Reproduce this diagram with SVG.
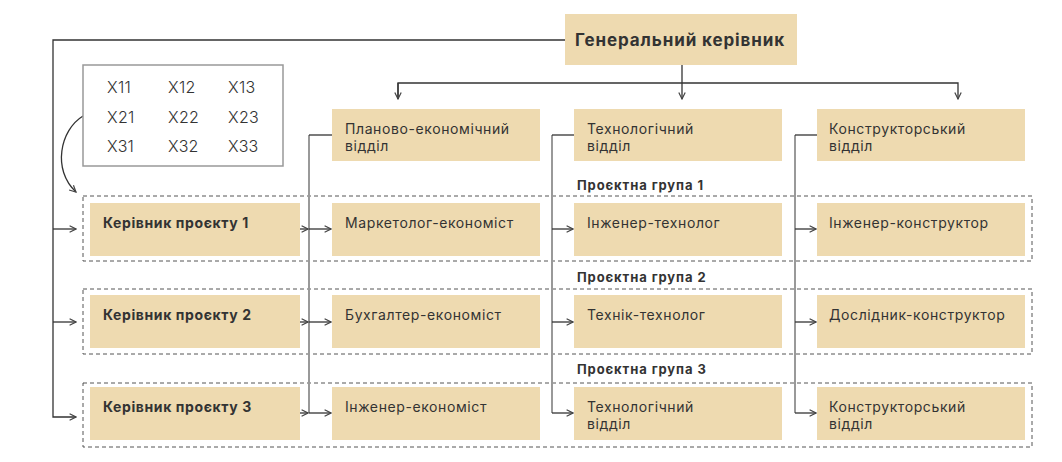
<svg xmlns="http://www.w3.org/2000/svg" width="1062" height="462" viewBox="0 0 1062 462">
<style>
.box{fill:#EEDAB0}
.t{font-family:Inter,"Noto Sans",sans-serif;font-size:14px;fill:#333;letter-spacing:0.6px}
.b{font-weight:bold}
.gl{font-family:Inter,"Noto Sans",sans-serif;font-size:13px;font-weight:bold;fill:#333;letter-spacing:0.9px}
.x{font-family:Inter,"Noto Sans",sans-serif;font-size:16px;font-weight:300;fill:#333;letter-spacing:0.3px}
.dash{fill:none;stroke:#555;stroke-width:1;stroke-dasharray:4 3}
.c{fill:none;stroke:#333;stroke-width:1.3}
.v{fill:none;stroke:#999;stroke-width:2}
</style>
<defs>
<marker id="ah" viewBox="0 0 10 10" refX="9" refY="5" markerWidth="8" markerHeight="8" markerUnits="userSpaceOnUse" orient="auto">
<path d="M1,1 L9,5 L1,9" fill="none" stroke="#444" stroke-width="1.5"/>
</marker>
</defs>
<rect width="1062" height="462" fill="#fff"/>
<g id="groups">
<rect class="dash" x="83" y="196" width="949" height="65"/>
<rect class="dash" x="83" y="289" width="949" height="65"/>
<rect class="dash" x="83" y="383" width="949" height="64"/>
<text class="gl" x="577" y="190">Проєктна група 1</text>
<text class="gl" x="577" y="282">Проєктна група 2</text>
<text class="gl" x="577" y="374">Проєктна група 3</text>
</g>
<g id="connectors">
<path class="c" d="M565,40 H53 V417 H76" marker-end="url(#ah)"/>
<path class="c" d="M53,229 H76" marker-end="url(#ah)"/>
<path class="c" d="M53,322 H76" marker-end="url(#ah)"/>
<path class="c" d="M682,65 V99" marker-end="url(#ah)"/>
<path class="c" d="M398,99 V83 H958 V99" marker-end="url(#ah)"/>
<path class="c" d="M398,83 V99" marker-end="url(#ah)"/>
<path class="c" d="M83,116 C60,130 52,170 76,192" marker-end="url(#ah)"/>
<path class="v" d="M309,135 V413"/>
<path class="v" d="M552,135 V413"/>
<path class="v" d="M795,135 V413"/>
<path class="c" d="M332,135 H309"/>
<path class="c" d="M574,135 H552"/>
<path class="c" d="M817,135 H795"/>
<path class="c" d="M300,229 H308" marker-end="url(#ah)"/>
<path class="c" d="M300,322 H308" marker-end="url(#ah)"/>
<path class="c" d="M300,413 H308" marker-end="url(#ah)"/>
<path class="c" d="M309,229 H331" marker-end="url(#ah)"/>
<path class="c" d="M309,322 H331" marker-end="url(#ah)"/>
<path class="c" d="M309,413 H331" marker-end="url(#ah)"/>
<path class="c" d="M552,229 H573" marker-end="url(#ah)"/>
<path class="c" d="M552,322 H573" marker-end="url(#ah)"/>
<path class="c" d="M552,413 H573" marker-end="url(#ah)"/>
<path class="c" d="M795,229 H816" marker-end="url(#ah)"/>
<path class="c" d="M795,322 H816" marker-end="url(#ah)"/>
<path class="c" d="M795,413 H816" marker-end="url(#ah)"/>
</g>
<g id="general">
<rect class="box" x="565" y="14" width="232" height="51"/>
<text class="t b" x="575" y="46" style="font-size:17px;letter-spacing:0.9px">Генеральний керівник</text>
</g>
<g id="matrix">
<rect x="83" y="65" width="200" height="101" fill="#fff" stroke="#999" stroke-width="1.5"/>
<text class="x" x="107" y="93">X11</text><text class="x" x="168" y="93">X12</text><text class="x" x="228" y="93">X13</text>
<text class="x" x="107" y="123">X21</text><text class="x" x="168" y="123">X22</text><text class="x" x="228" y="123">X23</text>
<text class="x" x="107" y="152">X31</text><text class="x" x="168" y="152">X32</text><text class="x" x="228" y="152">X33</text>
</g>
<g id="dept1"><rect class="box" x="332" y="109" width="208" height="52"/><text class="t" x="345" y="134">Планово-економічний</text><text class="t" x="345" y="151">відділ</text></g>
<g id="dept2"><rect class="box" x="574" y="109" width="208" height="52"/><text class="t" x="587" y="134">Технологічний</text><text class="t" x="587" y="151">відділ</text></g>
<g id="dept3"><rect class="box" x="817" y="109" width="208" height="52"/><text class="t" x="829" y="134">Конструкторський</text><text class="t" x="829" y="151">відділ</text></g>
<g id="pm1"><rect class="box" x="90" y="203" width="210" height="53"/><text class="t b" x="103" y="228">Керівник проєкту 1</text></g>
<g id="pm2"><rect class="box" x="90" y="295" width="210" height="53"/><text class="t b" x="103" y="320">Керівник проєкту 2</text></g>
<g id="pm3"><rect class="box" x="90" y="387" width="210" height="53"/><text class="t b" x="103" y="412">Керівник проєкту 3</text></g>
<g id="r1b"><rect class="box" x="332" y="203" width="208" height="53"/><text class="t" x="345" y="228">Маркетолог-економіст</text></g>
<g id="r1c"><rect class="box" x="574" y="203" width="208" height="53"/><text class="t" x="587" y="228">Інженер-технолог</text></g>
<g id="r1d"><rect class="box" x="817" y="203" width="208" height="53"/><text class="t" x="829" y="228">Інженер-конструктор</text></g>
<g id="r2b"><rect class="box" x="332" y="295" width="208" height="53"/><text class="t" x="345" y="320">Бухгалтер-економіст</text></g>
<g id="r2c"><rect class="box" x="574" y="295" width="208" height="53"/><text class="t" x="587" y="320">Технік-технолог</text></g>
<g id="r2d"><rect class="box" x="817" y="295" width="208" height="53"/><text class="t" x="829" y="320">Дослідник-конструктор</text></g>
<g id="r3b"><rect class="box" x="332" y="387" width="208" height="53"/><text class="t" x="345" y="412">Інженер-економіст</text></g>
<g id="r3c"><rect class="box" x="574" y="387" width="208" height="53"/><text class="t" x="587" y="412">Технологічний</text><text class="t" x="587" y="429">відділ</text></g>
<g id="r3d"><rect class="box" x="817" y="387" width="208" height="53"/><text class="t" x="829" y="412">Конструкторський</text><text class="t" x="829" y="429">відділ</text></g>
</svg>
